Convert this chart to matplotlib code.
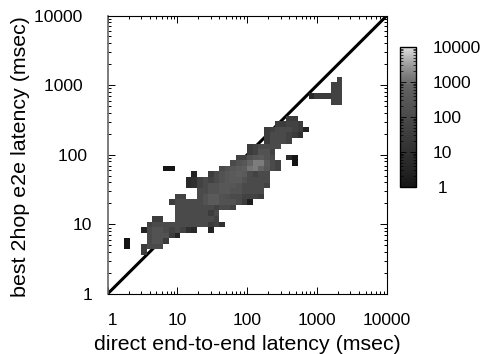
import numpy as np
import matplotlib
matplotlib.use('Agg')
import matplotlib.pyplot as plt
from matplotlib.colors import LinearSegmentedColormap, LogNorm
from matplotlib.ticker import FixedLocator, LogLocator, NullFormatter

plt.rcParams['font.family'] = ['Liberation Sans', 'DejaVu Sans']

# histogram cells: (y bin, first x bin, counts)
rows = [
    (7, 6, [30]),
    (8, 3, [1]),
    (8, 6, [30, 100, 100, 100]),
    (9, 3, [1]),
    (9, 7, [100, 200, 200, 30]),
    (10, 7, [100, 200, 200, 200, 30, 3]),
    (11, 6, [3, 100, 200, 200, 100, 50, 100, 50, 10, 5]),
    (11, 18, [3]),
    (12, 7, [50, 100, 100, 100, 100, 100, 100, 100, 100, 100, 100, 30, 50, 10]),
    (13, 8, [30, 30]),
    (13, 12, [100, 100, 100, 100, 100, 100, 100, 50]),
    (14, 12, [100, 100, 100, 100, 100, 100, 30, 100]),
    (15, 12, [100, 100, 100, 100, 100, 100, 100, 50, 100, 100, 50]),
    (16, 11, [30, 100, 100, 100, 100, 100, 200, 400, 400, 200, 200, 200, 100, 30, 2]),
    (17, 12, [50, 50]),
    (17, 16, [100, 200, 400, 400, 200, 150, 100, 100, 50, 50, 50, 30]),
    (18, 16, [100, 100, 200, 200, 300, 300, 200, 200, 100, 100, 100, 100]),
    (19, 14, [5, 10, 50, 100, 200, 200, 300, 300, 300, 200, 100, 100, 100, 100, 50]),
    (20, 14, [5, 10, 50, 100, 50, 100, 200, 300, 400, 400, 200, 100, 100, 100, 100]),
    (21, 15, [3]),
    (21, 18, [30, 100, 200, 300, 400, 500, 400, 100, 50, 100, 100]),
    (22, 10, [1, 1]),
    (22, 20, [100, 200, 300, 400, 500, 1200, 1500, 800, 300, 100, 50]),
    (23, 22, [100, 200, 300, 800, 1500, 1500, 400, 100, 50]),
    (23, 33, [1]),
    (24, 23, [50, 50, 200, 300, 400, 200, 100]),
    (24, 32, [5, 1]),
    (25, 25, [30, 50, 200, 200, 50]),
    (26, 25, [30, 50, 100, 100, 100, 100]),
    (27, 28, [30, 100, 100, 100, 50]),
    (28, 28, [30, 100, 100, 100, 50, 30, 10]),
    (29, 28, [30, 50, 100, 100, 100, 50, 30, 3]),
    (30, 30, [30, 30, 50, 50, 30]),
    (31, 32, [30, 30]),
    (34, 40, [50, 50]),
    (35, 36, [5, 30, 30, 30, 50, 50]),
    (36, 40, [50, 50]),
    (37, 40, [50, 50]),
    (38, 41, [50]),
]
n_bins = 50
axis_limits = [1, 10000]
decades = [1, 10, 100, 1000, 10000]
x_tick_labels = ['  1', '10', '100', '1000', '10000']
y_tick_labels = ['1', '10', '100 ', '1000  ', '10000  ']
cbar_tick_labels = [' 1', '10', '100', '1000', '10000']

# gnuplot style grey ramp, stops are (log10 count / 4, grey level)
grey_stops = [(0, 0x14), (0.119, 0x24), (0.25, 0x30), (0.369, 0x3c), (0.5, 0x4a),
              (0.575, 0x52), (0.65, 0x5a), (0.725, 0x64), (0.795, 0x7c),
              (0.87, 0x9a), (1, 0xe0)]
cmap = LinearSegmentedColormap.from_list(
    'grey_ramp', [(p, (g / 255, g / 255, g / 255)) for p, g in grey_stops], N=256)

grid = np.full((n_bins, n_bins), np.nan)
for row, start, counts in rows:
    grid[row, start:start + len(counts)] = counts
edges = np.logspace(0, 4, n_bins + 1)

fig = plt.figure(figsize=(4.81, 3.54), dpi=100)
ax = fig.add_axes([107.5 / 481, 60 / 354, 279.5 / 481, 278.5 / 354])
ax.plot(axis_limits, axis_limits, color='black', lw=2.2, zorder=1)
mesh = ax.pcolormesh(edges, edges, np.ma.masked_invalid(grid), cmap=cmap,
                     norm=LogNorm(1, 10000), zorder=2, antialiased=False)

ax.set_xscale('log')
ax.set_yscale('log')
ax.set_xlim(axis_limits)
ax.set_ylim(axis_limits)
for axis, labels in ((ax.xaxis, x_tick_labels), (ax.yaxis, y_tick_labels)):
    axis.set_major_locator(FixedLocator(decades))
    axis.set_ticklabels(labels)
    axis.set_minor_locator(LogLocator(10, subs=range(2, 10), numticks=12))
    axis.set_minor_formatter(NullFormatter())
ax.tick_params(which='major', direction='in', top=True, right=True, length=5, width=0.7, labelsize=12.6)
ax.tick_params(which='minor', direction='in', top=True, right=True, length=2.5, width=0.7)
ax.tick_params(axis='x', which='major', pad=14)
ax.tick_params(axis='y', which='major', pad=11)
for side in ax.spines:
    ax.spines[side].set_linewidth(0.8)
ax.spines['left'].set_color('#666666')
ax.spines['left'].set_linewidth(1.2)
ax.set_xlabel('direct end-to-end latency (msec)', fontsize=15.4)
ax.set_ylabel('best 2hop e2e latency (msec)', fontsize=15.4)
ax.xaxis.set_label_coords(0.5, -0.147)
ax.yaxis.set_label_coords(-0.277, 0.495)

cax = fig.add_axes([400 / 481, (354 - 187) / 354, 16 / 481, 140 / 354])
cbar = fig.colorbar(mesh, cax=cax)
cbar.set_ticks(decades)
cbar.set_ticklabels(cbar_tick_labels)
cax.yaxis.set_minor_locator(LogLocator(10, subs=range(2, 10), numticks=12))
cax.yaxis.set_minor_formatter(NullFormatter())
cax.tick_params(which='major', direction='in', left=True, right=True, length=4, width=0.6, labelsize=12.6, pad=12)
cax.tick_params(which='minor', direction='in', left=True, right=True, length=2, width=0.5)
cbar.outline.set_linewidth(1)

fig.savefig('out.png', dpi=100)
